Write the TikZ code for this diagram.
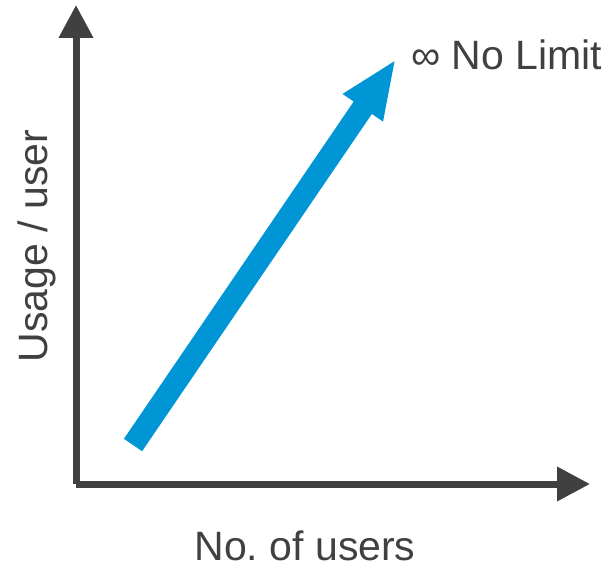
\documentclass[tikz,border=0pt]{standalone}
\usepackage{fontspec}
\setmainfont{Liberation Sans}
\usepackage{xcolor}
\usetikzlibrary{arrows.meta, positioning}
\definecolor{axisgray}{HTML}{404040}
\definecolor{growblue}{HTML}{0096D6}
\frenchspacing

\begin{document}
\begin{tikzpicture}[
            x=1pt, y=-1pt,                          % pixel-like units, y downwards
            axis/.style={axisgray, line width=7pt,
              -{Triangle[length=33pt,width=33pt]}}, % axis lines
            growth/.style={growblue, line width=22pt,
              -{Triangle[length=59pt,width=44pt]}}, % the big blue arrow
            every node/.style={text=axisgray, inner sep=0pt,
              font=\fontsize{41}{48}\selectfont}
          ]
          \useasboundingbox (0,0) rectangle (615,567);
          \coordinate (origin) at (76,484);
          \coordinate (ytop) at (76,5);
          \coordinate (xend) at (590,484);
          \coordinate (start) at (133,445);
          \coordinate (tip) at (396,59);

          \draw[axis] (origin) -- (ytop);
          \draw[axis] (origin) -- (xend);
          \draw[growth] (start) -- (tip);

          \node (limit) [anchor=base west] at (411,70) {∞ No Limit};
          \node (ylabel) [rotate=90, anchor=base] at (47,246) {Usage / user};
          \node (xlabel) [anchor=base] at (305,560) {No. of users};
        \end{tikzpicture}
\end{document}
